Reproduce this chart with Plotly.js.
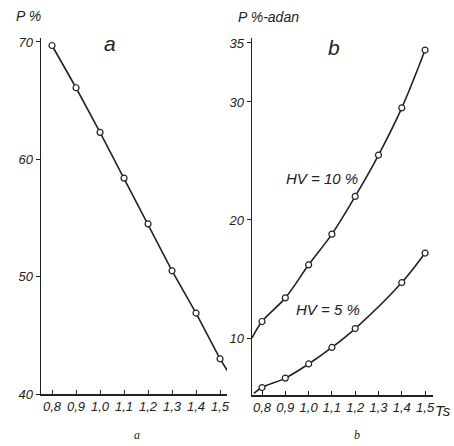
<!DOCTYPE html>
<html>
<head>
<meta charset="utf-8">
<script src="https://cdn.plot.ly/plotly-3.0.1.min.js"></script>
<style>html,body{margin:0;padding:0;background:#fff}#chart{width:454px;height:446px}</style>
</head>
<body>
<div id="chart"></div>
<script>
// ---- data ----
const tsValues = [0.8, 0.9, 1.0, 1.1, 1.2, 1.3, 1.4, 1.5];
const tickLabels = ["0,8", "0,9", "1,0", "1,1", "1,2", "1,3", "1,4", "1,5"];
const pA = [69.7, 66.1, 62.3, 58.4, 54.5, 50.5, 46.9, 43.0];
const pA_lineX = [0.8, 0.9, 1.0, 1.1, 1.2, 1.3, 1.4, 1.5, 1.53];
const pA_lineY = [69.7, 66.1, 62.3, 58.4, 54.5, 50.5, 46.9, 43.0, 42.0];
const hv10 = [11.4, 13.4, 16.2, 18.8, 22.0, 25.5, 29.5, 34.4];
const hv10_lineX = [0.757, 0.8, 0.9, 1.0, 1.1, 1.2, 1.3, 1.4, 1.5];
const hv10_lineY = [10.0, 11.4, 13.4, 16.2, 18.8, 22.0, 25.5, 29.5, 34.4];
const hv5X = [0.8, 0.9, 1.0, 1.1, 1.2, 1.4, 1.5];
const hv5 = [5.8, 6.6, 7.8, 9.2, 10.8, 14.7, 17.2];
const hv5_lineX = [0.765, 0.8, 0.9, 1.0, 1.1, 1.2, 1.4, 1.5];
const hv5_lineY = [5.3, 5.8, 6.6, 7.8, 9.2, 10.8, 14.7, 17.2];

const W = 454, H = 446;
const px = x => x / W;
const py = y => 1 - y / H;
const ink = '#222';
const tickFont = {family: 'Liberation Sans, Arial, sans-serif', size: 13, color: ink, style: 'italic'};

const lineStyle = {color: ink, width: 1.6};
const markerStyle = {symbol: 'circle', size: 6, color: '#fff', line: {color: ink, width: 1.2}};

const traces = [
  {x: pA_lineX, y: pA_lineY, mode: 'lines', line: lineStyle, xaxis: 'x', yaxis: 'y', hoverinfo: 'skip'},
  {x: tsValues, y: pA, mode: 'markers', marker: markerStyle, xaxis: 'x', yaxis: 'y'},
  {x: hv10_lineX, y: hv10_lineY, mode: 'lines', line: Object.assign({shape: 'spline'}, lineStyle), xaxis: 'x2', yaxis: 'y2', hoverinfo: 'skip'},
  {x: tsValues, y: hv10, mode: 'markers', marker: markerStyle, xaxis: 'x2', yaxis: 'y2'},
  {x: hv5_lineX, y: hv5_lineY, mode: 'lines', line: Object.assign({shape: 'spline'}, lineStyle), xaxis: 'x2', yaxis: 'y2', hoverinfo: 'skip'},
  {x: hv5X, y: hv5, mode: 'markers', marker: markerStyle, xaxis: 'x2', yaxis: 'y2'}
];

const xCommon = {
  tickvals: tsValues, ticktext: tickLabels, tickfont: tickFont,
  ticks: 'inside', ticklen: 4, tickcolor: ink, tickwidth: 1,
  showline: true, linecolor: ink, linewidth: 1.5,
  showgrid: false, zeroline: false, fixedrange: true
};
const yCommon = {
  tickfont: tickFont, ticks: 'outside', ticklen: 4, tickcolor: ink, tickwidth: 1,
  showline: true, linecolor: ink, linewidth: 1.5,
  showgrid: false, zeroline: false, fixedrange: true
};

function label(text, x, y, size, family) {
  return {
    text: text, x: px(x), y: py(y), xref: 'paper', yref: 'paper',
    xanchor: 'center', yanchor: 'middle', showarrow: false,
    font: {family: family || 'Liberation Sans, Arial, sans-serif', size: size, color: ink, style: 'italic'}
  };
}

const layout = {
  width: W, height: H,
  margin: {l: 0, r: 0, t: 0, b: 0},
  paper_bgcolor: '#fff', plot_bgcolor: 'rgba(0,0,0,0)',
  showlegend: false,
  xaxis: Object.assign({}, xCommon, {domain: [px(41), px(227)], range: [0.754, 1.529], anchor: 'y'}),
  yaxis: Object.assign({}, yCommon, {domain: [py(394), py(38)], range: [40, 70.34], tickvals: [40, 50, 60, 70], anchor: 'x'}),
  xaxis2: Object.assign({}, xCommon, {domain: [px(252), px(433)], range: [0.757, 1.534], anchor: 'y2'}),
  yaxis2: Object.assign({}, yCommon, {domain: [py(395), py(38)], range: [5.17, 35.42], tickvals: [10, 20, 30, 35], anchor: 'x2'}),
  annotations: [
    label('P %', 28, 16, 14),
    label('P %-adan', 268, 17, 14),
    label('a', 110, 44, 21),
    label('b', 334, 48, 21),
    label('HV = 10 %', 322, 178, 15),
    label('HV = 5 %', 328, 309, 15),
    label('Ts', 443, 410, 15),
    label('a', 137, 435, 12, 'Liberation Serif, Times New Roman, serif'),
    label('b', 357, 435, 12, 'Liberation Serif, Times New Roman, serif')
  ]
};

Plotly.newPlot('chart', traces, layout, {staticPlot: true, displayModeBar: false});
</script>
</body>
</html>
